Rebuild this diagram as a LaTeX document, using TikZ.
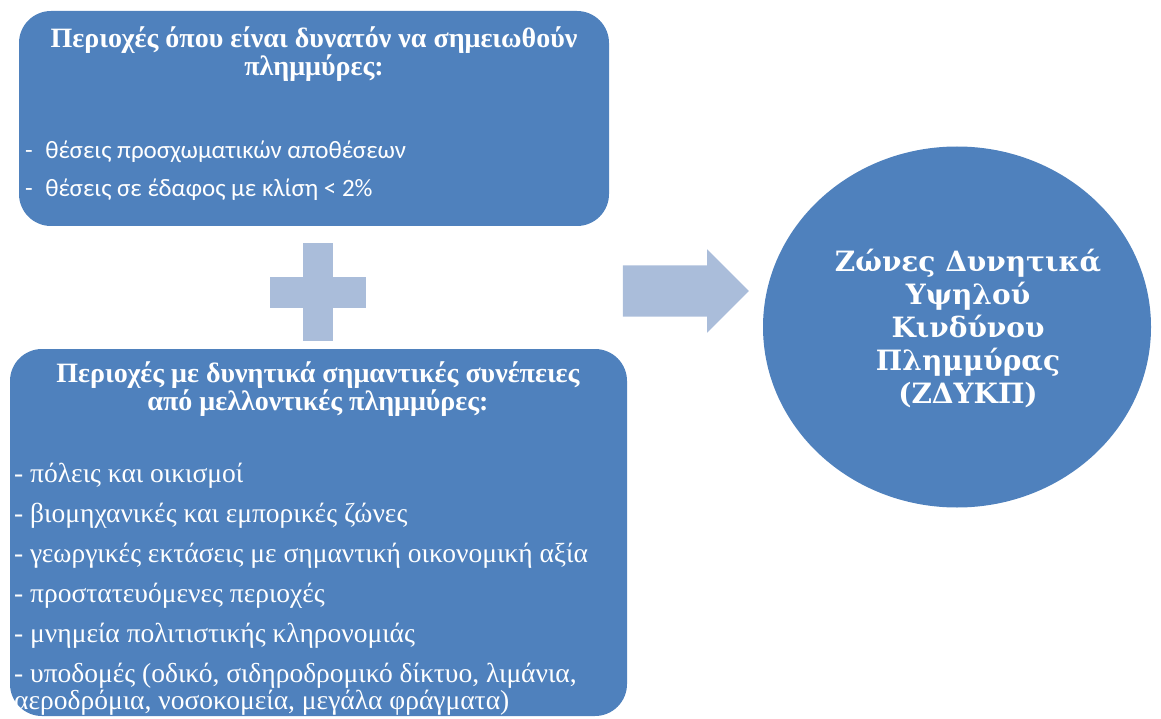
\documentclass[tikz,border=0pt]{standalone}
\usepackage{fontspec}
\setmainfont{Liberation Serif}
\newfontfamily\bodysans{Carlito}
\newfontfamily\zonefont{DejaVu Serif}
\usetikzlibrary{shapes.geometric,shapes.arrows,positioning}
\definecolor{BoxBlue}{HTML}{4F81BD}
\definecolor{SoftBlue}{HTML}{AABDDA}
\newcommand{\tightlines}{\lineskiplimit=-30pt\relax}

\begin{document}
\begin{tikzpicture}[
    x=1pt, y=-1pt,
    panel/.style={rectangle,rounded corners=32pt,fill=BoxBlue,inner sep=0pt},
    zone/.style={ellipse,fill=BoxBlue,inner sep=0pt,text=white,align=center,
      font=\zonefont\bfseries\fontsize{28}{33}\selectfont},
    head/.style={text=white,align=center,inner sep=0pt,
      font=\bfseries\fontsize{28}{28}\selectfont},
    items/.style={text=white,align=left,inner sep=0pt,anchor=west},
    bigarrow/.style={single arrow,fill=SoftBlue,inner xsep=0pt,inner ysep=25.5pt,
      single arrow head extend=16pt,single arrow head indent=0pt,
      minimum height=126pt,minimum width=0pt},
  ]
  \useasboundingbox (0,0) rectangle (1161,719);
  % Top box - flood prone areas
  \node[panel,minimum width=590pt,minimum height=215pt] (prone) at (314,118.5) {};
  \node[head] (pronehead) at (314,54) {Περιοχές όπου είναι δυνατόν να σημειωθούν\\πλημμύρες:};
  \node[items,font=\bodysans\fontsize{25}{38}\selectfont] (proneitems) at (25,171)
    {-\enspace θέσεις προσχωματικών αποθέσεων\\-\enspace θέσεις σε έδαφος με κλίση < 2\%};
  % Plus sign
  \fill[SoftBlue] (303,243) rectangle (333,341);
  \fill[SoftBlue] (270,277) rectangle (366,308);
  % Bottom box - consequences
  \node[panel,minimum width=617pt,minimum height=367pt] (impact) at (318.5,532.5) {};
  \node[head] (impacthead) at (318,389) {Περιοχές με δυνητικά σημαντικές συνέπειες\\από μελλοντικές πλημμύρες:};
  \node[items,font=\fontsize{27.5}{25}\selectfont\tightlines] (impactitems) at (14,589)
    {- πόλεις και οικισμοί\\[15pt]
     - βιομηχανικές και εμπορικές ζώνες\\[15pt]
     - γεωργικές εκτάσεις με σημαντική οικονομική αξία\\[15pt]
     - προστατευόμενες περιοχές\\[15pt]
     - μνημεία πολιτιστικής κληρονομιάς\\[15pt]
     - υποδομές (οδικό, σιδηροδρομικό δίκτυο, λιμάνια,\\[2pt]
     αεροδρόμια, νοσοκομεία, μεγάλα φράγματα)};
  % Result zone
  \node[zone,minimum width=388pt,minimum height=361pt] (zdykp) at (957,327) {};
  \node[zone,fill=none,minimum size=0pt] (zdykptext) at (968,328)
    {Ζώνες Δυνητικά\\Υψηλού\\Κινδύνου\\Πλημμύρας\\(ΖΔΥΚΠ)};
  % Arrow towards the zone
  \node[bigarrow] (toward) at (673,291) {};
\end{tikzpicture}
\end{document}
